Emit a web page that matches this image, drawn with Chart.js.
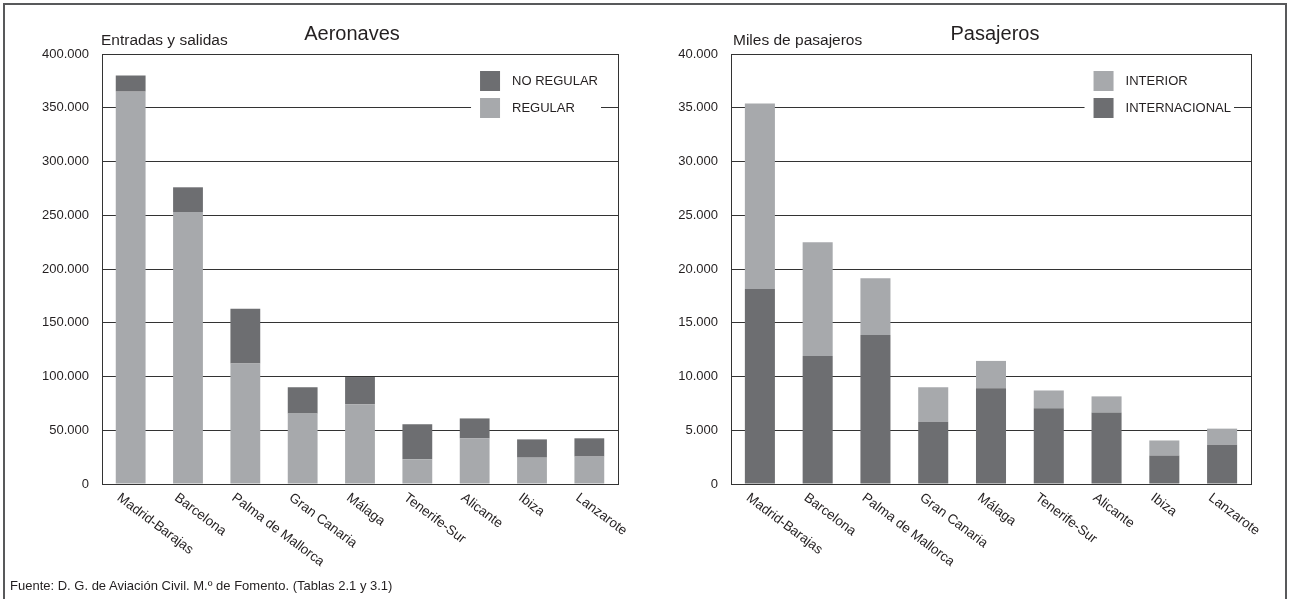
<!DOCTYPE html>
<html>
<head>
<meta charset="utf-8">
<script src="https://cdn.jsdelivr.net/npm/chart.js@4.4.1/dist/chart.umd.min.js"></script>
<style>
  html, body { margin: 0; padding: 0; background: #fff; }
  #page { position: relative; width: 1290px; height: 599px; overflow: hidden; font-family: "Liberation Sans", Arial, sans-serif; color: #231f20; }
  #frame { position: absolute; left: 3px; top: 3px; width: 1284px; height: 620px; box-sizing: border-box; border: 2px solid #58595b; }
  canvas { position: absolute; top: 0; }
  .title { position: absolute; width: 240px; text-align: center; font-size: 20px; line-height: 20px; white-space: nowrap; }
  .unit { position: absolute; font-size: 15.5px; line-height: 15.5px; white-space: nowrap; }
  #source { position: absolute; left: 10px; top: 579px; font-size: 13px; line-height: 13px; white-space: nowrap; }
</style>
</head>
<body>
<div id="page">
  <div id="frame"></div>
  <canvas id="aeronaves" width="645" height="599" style="left:0"></canvas>
  <canvas id="pasajeros" width="645" height="599" style="left:645px"></canvas>
  <div class="title" style="left:232px;top:23px">Aeronaves</div>
  <div class="unit" style="left:101px;top:32px">Entradas y salidas</div>
  <div class="title" style="left:875px;top:23px">Pasajeros</div>
  <div class="unit" style="left:733px;top:32px">Miles de pasajeros</div>
  <div id="source">Fuente: D. G. de Aviación Civil. M.º de Fomento. (Tablas 2.1 y 3.1)</div>
</div>
<script>
const categories = ['Madrid-Barajas', 'Barcelona', 'Palma de Mallorca', 'Gran Canaria', 'Málaga', 'Tenerife-Sur', 'Alicante', 'Ibiza', 'Lanzarote'];

// Aeronaves: entradas y salidas
const regular   = [365000, 253000, 112000, 65500, 74000, 23000, 42500, 24500, 25500];
const noRegular = [15000, 23000, 51000, 24500, 25500, 32500, 18500, 17000, 17000];
const aeronavesTicks = [0, 50000, 100000, 150000, 200000, 250000, 300000, 350000, 400000];

// Pasajeros: miles
const internacional = [18150, 11900, 13850, 5800, 8900, 7050, 6650, 2650, 3650];
const interior      = [17250, 10600, 5300, 3200, 2550, 1650, 1500, 1400, 1500];
const pasajerosTicks = [0, 5000, 10000, 15000, 20000, 25000, 30000, 35000, 40000];

const DARK = '#6d6e71';
const LIGHT = '#a7a9ac';
const INK = '#231f20';
const FONT = '"Liberation Sans", Arial, sans-serif';

Chart.defaults.font.family = FONT;
Chart.defaults.color = INK;

function fmt(v) {
  return String(v).replace(/\B(?=(\d{3})+(?!\d))/g, '.');
}

// legend inside the plot, on a white patch that cuts the grid line
const legendBox = {
  id: 'legendBox',
  afterDatasetsDraw(chart, args, opts) {
    const { ctx, chartArea } = chart;
    const items = opts.order.map(i => chart.data.datasets[i]);
    ctx.save();
    ctx.font = '13px ' + FONT;
    const maxW = Math.max(...items.map(d => ctx.measureText(d.label).width));
    const textRight = chartArea.right - 20;
    const textX = textRight - maxW;
    const swX = textX - 32;
    ctx.fillStyle = '#fff';
    ctx.fillRect(swX - 9, chartArea.top + 8, textRight + 3 - (swX - 9), 70);
    items.forEach((d, k) => {
      const y = chartArea.top + 17 + k * 27;
      ctx.fillStyle = d.backgroundColor;
      ctx.fillRect(swX, y, 20, 20);
      ctx.fillStyle = INK;
      ctx.textAlign = 'left';
      ctx.textBaseline = 'middle';
      ctx.fillText(d.label, textX, y + 10.5);
    });
    ctx.restore();
  }
};

// frame round the plot and slanted category labels
const frameAndLabels = {
  id: 'frameAndLabels',
  afterDraw(chart) {
    const { ctx, chartArea } = chart;
    const xs = chart.scales.x;
    ctx.save();
    ctx.strokeStyle = '#333';
    ctx.lineWidth = 1;
    ctx.strokeRect(Math.round(chartArea.left) + 0.5, Math.round(chartArea.top) + 0.5,
      Math.round(chartArea.right - chartArea.left), Math.round(chartArea.bottom - chartArea.top));
    ctx.font = '13.5px ' + FONT;
    ctx.fillStyle = INK;
    ctx.textAlign = 'left';
    ctx.textBaseline = 'top';
    chart.data.labels.forEach((lab, i) => {
      const x = xs.getPixelForValue(i);
      ctx.save();
      ctx.translate(x - 8, chartArea.bottom + 7);
      ctx.rotate(37 * Math.PI / 180);
      ctx.fillText(lab, 0, 0);
      ctx.restore();
    });
    ctx.restore();
  }
};

function makeChart(id, datasets, ticks, axisWidth, padRight, legendOrder) {
  return new Chart(document.getElementById(id), {
    type: 'bar',
    data: { labels: categories, datasets: datasets },
    options: {
      responsive: false,
      animation: false,
      devicePixelRatio: 1,
      layout: { padding: { left: 0, top: 54, right: padRight, bottom: 115 } },
      plugins: {
        legend: { display: false },
        tooltip: { enabled: false },
        legendBox: { order: legendOrder }
      },
      datasets: { bar: { barPercentage: 0.52, categoryPercentage: 1 } },
      scales: {
        x: { stacked: true, display: false },
        y: {
          stacked: true,
          min: 0,
          max: ticks[ticks.length - 1],
          afterBuildTicks: s => { s.ticks = ticks.map(v => ({ value: v })); },
          afterFit: s => { s.width = axisWidth; },
          border: { display: false },
          grid: { color: '#333', lineWidth: 1, drawTicks: false },
          ticks: { padding: 13, font: { size: 13 }, color: INK, callback: v => fmt(v) }
        }
      }
    },
    plugins: [legendBox, frameAndLabels]
  });
}

makeChart('aeronaves', [
  { label: 'REGULAR', data: regular, backgroundColor: LIGHT },
  { label: 'NO REGULAR', data: noRegular, backgroundColor: DARK }
], aeronavesTicks, 102, 27, [1, 0]);

makeChart('pasajeros', [
  { label: 'INTERNACIONAL', data: internacional, backgroundColor: DARK },
  { label: 'INTERIOR', data: interior, backgroundColor: LIGHT }
], pasajerosTicks, 86, 39, [1, 0]);
</script>
</body>
</html>
